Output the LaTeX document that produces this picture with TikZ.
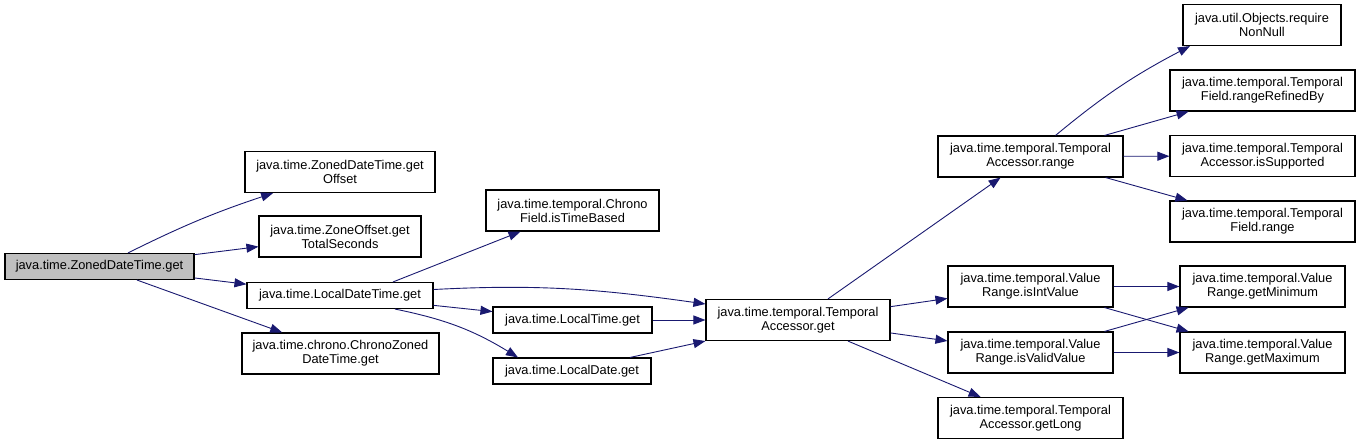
\documentclass[tikz,border=0pt]{standalone}
\usepackage{fontspec}
\setmainfont{Liberation Sans}
\usetikzlibrary{arrows.meta}
\definecolor{edgeblue}{HTML}{191970}
\definecolor{rootgray}{HTML}{BFBFBF}

\begin{document}
\begin{tikzpicture}[x=1pt,y=-1pt,
        font=\fontsize{12.8}{14}\selectfont,
        box/.style={draw, fill=white, line width=1.1pt, align=center, inner sep=0pt, minimum height=41pt},
        box1/.style={box, minimum height=26pt},
        call/.style={-{Triangle[length=12pt,width=9pt]}, color=edgeblue, line width=0.9pt}]
        \useasboundingbox (0,0) rectangle (1360,444);
        \node[box1, fill=rootgray, minimum width=189pt] (zdt) at (99.5,266.5) {java.time.ZonedDateTime.get};
        \node[box, minimum width=190pt] (offset) at (340,172) {java.time.ZonedDateTime.get\\Offset};
        \node[box, minimum width=162pt] (totsec) at (340,236.5) {java.time.ZoneOffset.get\\TotalSeconds};
        \node[box1, minimum width=186pt] (ldt) at (340,295.5) {java.time.LocalDateTime.get};
        \node[box, minimum width=197pt] (chrono) at (340.5,353.5) {java.time.chrono.ChronoZoned\\DateTime.get};
        \node[box, minimum width=173pt] (chronofield) at (572.5,210.5) {java.time.temporal.Chrono\\Field.isTimeBased};
        \node[box1, minimum width=159pt] (ltime) at (572.5,320) {java.time.LocalTime.get};
        \node[box1, minimum width=158pt] (ldate) at (572,371) {java.time.LocalDate.get};
        \node[box, minimum width=184pt] (taget) at (798,320) {java.time.temporal.Temporal\\Accessor.get};
        \node[box, minimum width=185pt] (tarange) at (1030.5,156.5) {java.time.temporal.Temporal\\Accessor.range};
        \node[box, minimum width=165pt] (isint) at (1030.5,286.5) {java.time.temporal.Value\\Range.isIntValue};
        \node[box, minimum width=165pt] (isvalid) at (1030.5,352.5) {java.time.temporal.Value\\Range.isValidValue};
        \node[box, minimum width=185pt] (getlong) at (1030.5,418) {java.time.temporal.Temporal\\Accessor.getLong};
        \node[box, minimum width=158pt] (reqnn) at (1262,25) {java.util.Objects.require\\NonNull};
        \node[box, minimum width=185pt] (rangeref) at (1262.5,90.5) {java.time.temporal.Temporal\\Field.rangeRefinedBy};
        \node[box, minimum width=185pt] (issupp) at (1262.5,156) {java.time.temporal.Temporal\\Accessor.isSupported};
        \node[box, minimum width=185pt] (frange) at (1262.5,221.5) {java.time.temporal.Temporal\\Field.range};
        \node[box, minimum width=165pt] (getmin) at (1262.5,286.5) {java.time.temporal.Value\\Range.getMinimum};
        \node[box, minimum width=165pt] (getmax) at (1262.5,352.5) {java.time.temporal.Value\\Range.getMaximum};
        \draw[call] (zdt) to[bend left=4] (offset);
        \draw[call] (zdt) -- (totsec);
        \draw[call] (zdt) -- (ldt);
        \draw[call] (zdt) -- (chrono);
        \draw[call] ([xshift=53pt]ldt.north) -- ([xshift=-52pt]chronofield.south);
        \draw[call] ([yshift=6pt]ldt.east) to[out=3,in=172] ([yshift=16pt]taget.west);
        \draw[call] (ldt) -- (ltime);
        \draw[call] ([xshift=55pt]ldt.south) to[bend left=10] ([xshift=-54pt]ldate.north);
        \draw[call] (ltime) -- (taget);
        \draw[call] ([xshift=58pt]ldate.north) -- (taget.south west);
        \draw[call] (taget) -- (tarange);
        \draw[call] (taget) -- (isint);
        \draw[call] (taget) -- (isvalid);
        \draw[call] (taget) -- (getlong);
        \draw[call] ([xshift=25pt]tarange.north) to[bend left=6] ([xshift=-72pt]reqnn.south);
        \draw[call] (tarange) -- (rangeref);
        \draw[call] (tarange) -- (issupp);
        \draw[call] (tarange) -- (frange);
        \draw[call] (isint) -- (getmin);
        \draw[call] (isint) -- (getmax);
        \draw[call] (isvalid) -- (getmin);
        \draw[call] (isvalid) -- (getmax);
    \end{tikzpicture}
\end{document}
